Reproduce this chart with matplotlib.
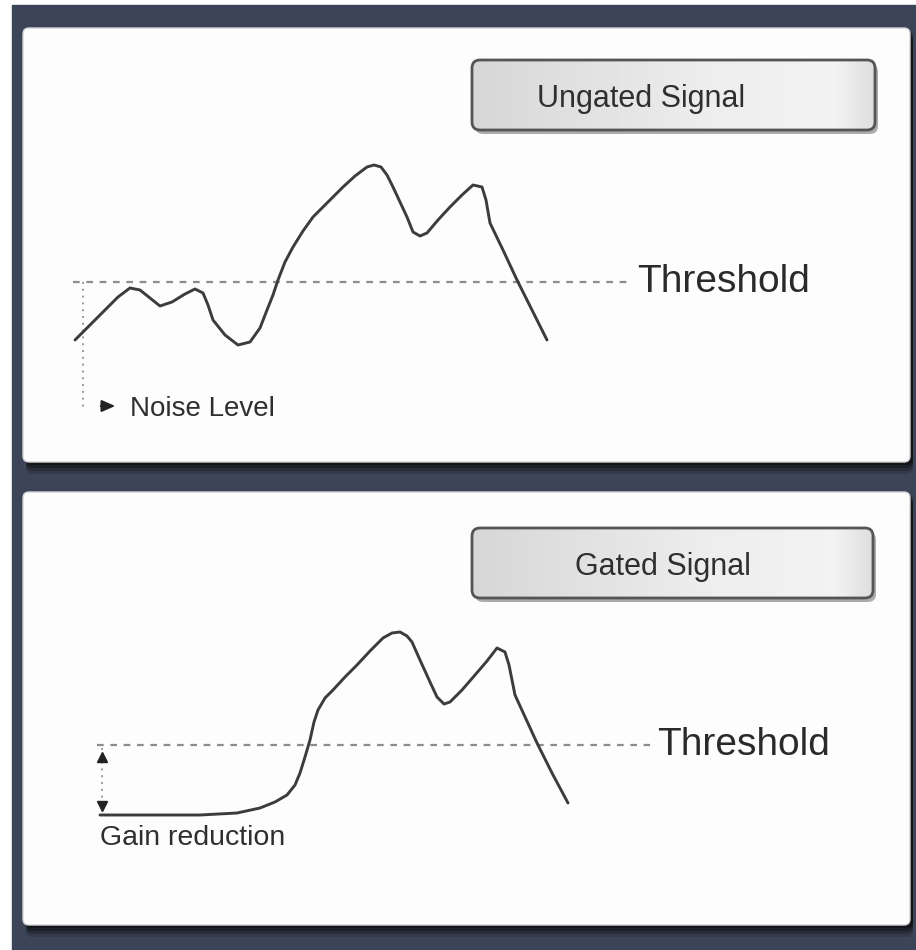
import numpy as np
import matplotlib
matplotlib.use("Agg")
import matplotlib.pyplot as plt
from matplotlib.patches import FancyBboxPatch, Rectangle

plt.rcParams['font.family'] = ['Liberation Sans', 'DejaVu Sans']

# ---- data: time (px units from the left start) and level (relative to threshold) ----
ungated_time = [0, 15, 30, 43, 55, 65, 75, 85, 97, 110, 120, 128, 133, 138, 150, 163,
                175, 185, 192, 198, 203, 210, 218, 228, 238, 253, 268, 280, 292, 299, 306,
                312, 318, 325, 332, 338, 345, 352, 363, 375, 387, 398, 407, 411, 415, 428,
                442, 457, 472]
ungated_level = [-58, -43, -28, -15, -6, -8, -16, -24, -20, -12, -7, -11, -23, -38, -53,
                 -63, -60, -46, -28, -13, 2, 20, 35, 51, 65, 80, 95, 106, 115, 117, 115,
                 107, 95, 80, 65, 50, 46, 49, 62, 75, 87, 97, 95, 82, 59, 32, 2, -28, -58]

gated_time = [25, 75, 125, 162, 185, 200, 212, 220, 225, 230, 235, 239, 243, 250, 258,
              270, 282, 295, 308, 317, 325, 332, 337, 345, 355, 362, 369, 375, 387, 400, 412,
              422, 430, 434, 440, 451, 462, 477, 493]
gated_level = [-70, -70, -70, -68, -63, -57, -50, -40, -28, -12, 5, 23, 35, 47, 55, 68,
               80, 94, 107, 112, 113, 109, 103, 85, 63, 48, 41, 43, 55, 70, 84, 97, 93, 80,
               50, 26, 2, -28, -58]

threshold_top = [-2, 555]
threshold_bottom = [22, 575]
noise_level_time = 8
noise_level_span = [0, -128]
gain_time = 27
gain_span = [-3, -70]

panel_titles = ["Ungated Signal", "Gated Signal"]

fig = plt.figure(figsize=(9.16, 9.5), dpi=100)
fig.patch.set_facecolor("white")

# background / decoration axes in pixel units
bg = fig.add_axes([0, 0, 1, 1])
bg.set_xlim(0, 916)
bg.set_ylim(950, 0)
bg.axis("off")
bg.add_patch(Rectangle((12, 5), 904, 945, color="#3c4557", zorder=0))

panels = [(23, 28, 887, 434), (23, 492, 887, 433)]
label_boxes = [(472, 60, 403, 70), (472, 528, 401, 70)]
title_centers = [641, 663]

for (px, py, pw, ph) in panels:
    for k, a in enumerate([0.6, 0.45, 0.3, 0.18]):
        bg.add_patch(FancyBboxPatch((px + 3, py + 3 + k * 3), pw, ph,
                                    boxstyle="round,pad=0,rounding_size=6",
                                    fc="#0e0f13", ec="none", alpha=a, zorder=1))
    bg.add_patch(FancyBboxPatch((px, py), pw, ph, boxstyle="round,pad=0,rounding_size=6",
                                fc="#fdfdfd", ec="#d4d4d4", lw=1, zorder=2))

grad = np.concatenate([np.linspace(0.84, 0.93, 60), np.linspace(0.93, 0.95, 30),
                       np.linspace(0.95, 0.87, 10)])
grad = np.tile(grad, (20, 1))
for (bx, by, bw, bh), title, cx in zip(label_boxes, panel_titles, title_centers):
    bg.add_patch(FancyBboxPatch((bx + 3, by + 4), bw, bh, boxstyle="round,pad=0,rounding_size=8",
                                fc="#8a8a8a", ec="none", alpha=0.7, zorder=3))
    box = FancyBboxPatch((bx, by), bw, bh, boxstyle="round,pad=0,rounding_size=8",
                         fc="none", ec="#555555", lw=2, zorder=5)
    bg.add_patch(box)
    im = bg.imshow(grad, cmap="gray", vmin=0, vmax=1, extent=(bx, bx + bw, by + bh, by),
                   aspect="auto", zorder=4, interpolation="bilinear")
    im.set_clip_path(box)
    bg.text(cx, by + bh * 0.55, title, fontsize=22, color="#2f2f2f",
            ha="center", va="center", zorder=6)
bg.set_xlim(0, 916)
bg.set_ylim(950, 0)

line_kw = dict(color="#3c3c3c", lw=2.1, solid_joinstyle="round", solid_capstyle="round", zorder=4)
dash_kw = dict(color="#8c8c8c", lw=1.6, ls=(0, (3, 3)), zorder=3)

# top panel: ungated
ax1 = fig.add_axes([23 / 916, (950 - 462) / 950, 887 / 916, 434 / 950])
ax1.set_xlim(23 - 75, 910 - 75)
ax1.set_ylim(282 - 462, 282 - 28)
ax1.axis("off")
ax1.plot(threshold_top, [0, 0], **dash_kw)
ax1.plot(ungated_time, ungated_level, **line_kw)
ax1.plot([noise_level_time] * 2, noise_level_span, color="#9a9a9a", lw=1.4, ls=(0, (1, 2.5)))
ax1.annotate("", xy=(43, -124), xytext=(23, -124),
             arrowprops=dict(arrowstyle="-|>,head_length=0.8,head_width=0.35",
                             color="#222222", lw=1.5))
ax1.text(55, -127, "Noise Level", fontsize=20, color="#2f2f2f", ha="left", va="center")
ax1.text(562, 0, "Threshold", fontsize=28, color="#2a2a2a", ha="left", va="center")

# bottom panel: gated
ax2 = fig.add_axes([23 / 916, (950 - 925) / 950, 887 / 916, 433 / 950])
ax2.set_xlim(23 - 75, 910 - 75)
ax2.set_ylim(745 - 925, 745 - 492)
ax2.axis("off")
ax2.plot(threshold_bottom, [0, 0], **dash_kw)
ax2.plot(gated_time, gated_level, **line_kw)
ax2.plot([gain_time] * 2, gain_span, color="#9a9a9a", lw=1.4, ls=(0, (1, 2.5)))
ax2.plot([gain_time], [-12], marker="^", color="#222222", ms=7)
ax2.plot([gain_time], [-61], marker="v", color="#222222", ms=7)
ax2.text(25, -93, "Gain reduction", fontsize=20.5, color="#2f2f2f", ha="left", va="center")
ax2.text(582, 0, "Threshold", fontsize=28, color="#2a2a2a", ha="left", va="center")

fig.savefig("out.png", dpi=100)
